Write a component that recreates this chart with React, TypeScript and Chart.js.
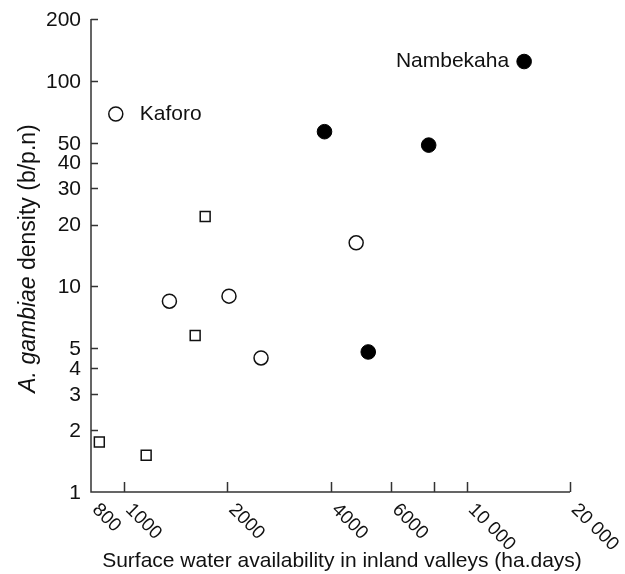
import React, { useEffect, useRef } from "react";
import { Chart, registerables } from "chart.js";

Chart.register(...registerables);

// Open circles
const openX = [945, 1355, 2022, 2508, 4753];
const openY = [69, 8.48, 8.97, 4.49, 16.3];
const openNames = ["Kaforo", "", "", "", ""];
// Filled circles
const filledX = [3842, 7737, 5155, 14695];
const filledY = [56.6, 48.7, 4.8, 124.2];
const filledNames = ["", "", "", "Nambekaha"];
// Open squares
const squareX = [1723, 1611, 846, 1159];
const squareY = [21.9, 5.77, 1.75, 1.51];

const xMin = 800;
const xMax = 20000;
const yMin = 1;
const yMax = 200;
const xTickMarks = [1000, 2000, 4000, 6000, 8000, 10000, 20000];
const xTickValues = [800, 1000, 2000, 4000, 6000, 10000, 20000];
const xTickLabels = ["800", "1000", "2000", "4000", "6000", "10 000", "20 000"];
const yTickValues = [1, 2, 3, 4, 5, 10, 20, 30, 40, 50, 100, 200];

const FONT = "'Liberation Sans', Arial, Helvetica, sans-serif";

const axesPlugin = {
  id: "customAxes",
  afterDatasetsDraw(chart: any) {
    const { ctx, chartArea, scales } = chart;
    const xs = scales.x;
    const ys = scales.y;
    const left = chartArea.left;
    const bottom = chartArea.bottom;
    ctx.save();
    ctx.strokeStyle = "#333";
    ctx.lineWidth = 1.5;
    // axis lines
    ctx.beginPath();
    ctx.moveTo(left, ys.getPixelForValue(yMax));
    ctx.lineTo(left, bottom);
    ctx.lineTo(xs.getPixelForValue(xMax), bottom);
    ctx.stroke();
    // x ticks (inward)
    ctx.beginPath();
    xTickMarks.forEach((v) => {
      const px = Math.round(xs.getPixelForValue(v)) + 0.5;
      ctx.moveTo(px, bottom);
      ctx.lineTo(px, bottom - 10);
    });
    // y ticks (inward)
    yTickValues.forEach((v) => {
      if (v === yMin) return;
      const py = Math.round(ys.getPixelForValue(v)) + 0.5;
      ctx.moveTo(left, py);
      ctx.lineTo(left + 7, py);
    });
    ctx.stroke();

    ctx.fillStyle = "#111";
    ctx.font = `21px ${FONT}`;
    // y tick labels
    ctx.textAlign = "right";
    ctx.textBaseline = "middle";
    yTickValues.forEach((v) => {
      ctx.fillText(String(v), left - 10, ys.getPixelForValue(v) + 1);
    });
    // x tick labels rotated clockwise
    ctx.font = `19px ${FONT}`;
    xTickValues.forEach((v, i) => {
      const px = xs.getPixelForValue(v);
      ctx.save();
      ctx.translate(px + 11, bottom + 8);
      ctx.rotate(Math.PI / 4);
      ctx.textAlign = "left";
      ctx.textBaseline = "top";
      ctx.fillText(xTickLabels[i], 0, 0);
      ctx.restore();
    });
    // x title
    ctx.font = `21px ${FONT}`;
    ctx.textAlign = "center";
    ctx.textBaseline = "alphabetic";
    ctx.fillText(
      "Surface water availability in inland valleys (ha.days)",
      (left + xs.getPixelForValue(xMax)) / 2 + 11.5,
      567
    );
    // y title, mixed italic
    const part1 = "A. gambiae";
    const part2 = " density (b/p.n)";
    const tf = 23;
    ctx.save();
    ctx.translate(35, (ys.getPixelForValue(yMax) + bottom) / 2 + 3);
    ctx.rotate(-Math.PI / 2);
    ctx.font = `italic ${tf}px ${FONT}`;
    const w1 = ctx.measureText(part1).width;
    ctx.font = `${tf}px ${FONT}`;
    const w2 = ctx.measureText(part2).width;
    const start = -(w1 + w2) / 2;
    ctx.textAlign = "left";
    ctx.textBaseline = "alphabetic";
    ctx.font = `italic ${tf}px ${FONT}`;
    ctx.fillText(part1, start, 0);
    ctx.font = `${tf}px ${FONT}`;
    ctx.fillText(part2, start + w1, 0);
    ctx.restore();

    // point name labels
    ctx.font = `21px ${FONT}`;
    ctx.textBaseline = "middle";
    openNames.forEach((n, i) => {
      if (!n) return;
      ctx.textAlign = "left";
      ctx.fillText(n, xs.getPixelForValue(openX[i]) + 24, ys.getPixelForValue(openY[i]));
    });
    filledNames.forEach((n, i) => {
      if (!n) return;
      ctx.textAlign = "right";
      ctx.fillText(n, xs.getPixelForValue(filledX[i]) - 15, ys.getPixelForValue(filledY[i]));
    });
    ctx.restore();
  },
};

export default function App() {
  const ref = useRef<HTMLCanvasElement | null>(null);
  useEffect(() => {
    if (!ref.current) return;
    const mk = (xa: number[], ya: number[]) => xa.map((x, i) => ({ x, y: ya[i] }));
    const chart = new Chart(ref.current, {
      type: "scatter",
      data: {
        datasets: [
          {
            data: mk(openX, openY),
            pointStyle: "circle",
            pointRadius: 7,
            pointBorderWidth: 1.5,
            pointBorderColor: "#111",
            pointBackgroundColor: "#fff",
          },
          {
            data: mk(filledX, filledY),
            pointStyle: "circle",
            pointRadius: 7.3,
            pointBorderWidth: 1,
            pointBorderColor: "#000",
            pointBackgroundColor: "#000",
          },
          {
            data: mk(squareX, squareY),
            pointStyle: "rect",
            pointRadius: 7,
            pointBorderWidth: 1.5,
            pointBorderColor: "#111",
            pointBackgroundColor: "#fff",
          },
        ],
      },
      options: {
        responsive: false,
        animation: false,
        layout: { padding: { left: 91, right: 55, top: 19, bottom: 82 } },
        plugins: { legend: { display: false }, tooltip: { enabled: false } },
        scales: {
          x: { type: "logarithmic", min: xMin, max: xMax, display: false },
          y: { type: "logarithmic", min: yMin, max: yMax, display: false },
        },
      },
      plugins: [axesPlugin],
    });
    return () => chart.destroy();
  }, []);
  return (
    <div style={{ position: "fixed", left: 0, top: 0, width: 625, height: 574, background: "#fff" }}>
      <canvas ref={ref} width={625} height={574} style={{ display: "block" }} />
    </div>
  );
}
